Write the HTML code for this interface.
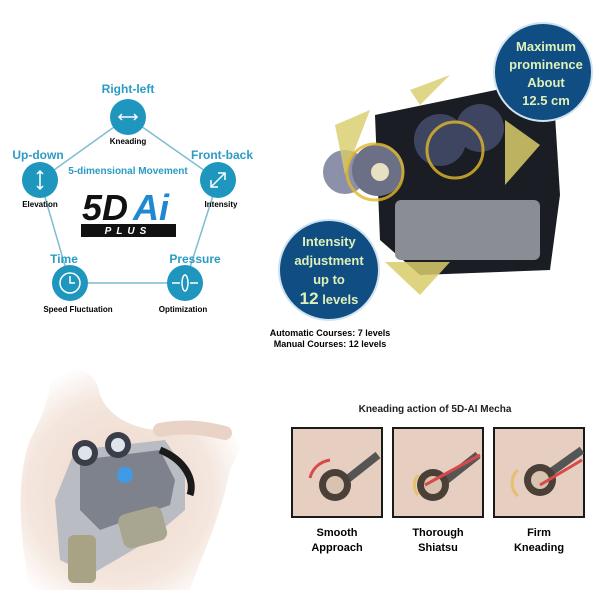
<!DOCTYPE html>
<html><head><style>
body{margin:0;width:600px;height:600px;background:#fff;overflow:hidden;font-family:"Liberation Sans",sans-serif;position:relative}
.t{position:absolute;white-space:nowrap;transform:translateX(-50%);font-weight:bold}
</style></head><body>
<svg width="600" height="600" style="position:absolute;left:0;top:0">
<defs>
<radialGradient id="body" cx="0.45" cy="0.55" r="0.6"><stop offset="0" stop-color="#ecd6c8"/><stop offset="0.7" stop-color="#f4e6de"/><stop offset="1" stop-color="#fff"/></radialGradient>
</defs>
<!-- pentagon -->
<polygon points="128,117 218,180 185,283 70,283 40,180" fill="none" stroke="#7dbcd2" stroke-width="1.5"/>
<g fill="#1e96bd">
<circle cx="128" cy="117" r="18"/><circle cx="40" cy="180" r="18"/><circle cx="218" cy="180" r="18"/><circle cx="70" cy="283" r="18"/><circle cx="185" cy="283" r="18"/>
</g>
<g stroke="#fff" stroke-width="1.5" fill="none">
<path d="M119,117h18M122,114l-3,3 3,3M134,114l3,3-3,3"/>
<path d="M40,171v18M37,174l3,-3 3,3M37,186l3,3 3,-3"/>
<path d="M211,187l14,-14M218,173h7v7M211,180v7h7"/>
<circle cx="70" cy="283" r="10"/><path d="M70,276v7h5"/>
<ellipse cx="185" cy="283" rx="3" ry="8"/><path d="M172,283h8M198,283h-8"/>
</g>
<text x="82" y="220" font-family="Liberation Sans" font-weight="bold" font-style="italic" font-size="36" fill="#111">5D</text>
<text x="133" y="220" font-family="Liberation Sans" font-weight="bold" font-style="italic" font-size="36" fill="#1e88d0">Ai</text>
<rect x="81" y="224" width="95" height="13" fill="#111"/>
<text x="128" y="234" text-anchor="middle" font-family="Liberation Sans" font-weight="bold" font-style="italic" font-size="10" letter-spacing="5" fill="#fff">PLUS</text>
<!-- machine -->
<g>
<polygon points="375,115 520,85 555,115 560,195 550,270 420,275 380,240" fill="#1b1d24"/>
<rect x="395" y="200" width="145" height="60" rx="6" fill="#8a8d94"/>
<circle cx="345" cy="172" r="22" fill="#8c90a8"/>
<circle cx="378" cy="170" r="26" fill="#6c7086"/>
<circle cx="440" cy="140" r="26" fill="#3e4560"/>
<circle cx="480" cy="128" r="24" fill="#3e4560"/>
<circle cx="380" cy="172" r="9" fill="#e8e0c0"/>
<polygon points="335,125 370,110 345,175" fill="#d8cc6a" opacity=".8"/>
<polygon points="410,90 450,75 420,105" fill="#d8cc6a" opacity=".8"/>
<polygon points="505,120 540,145 505,185" fill="#d8cc6a" opacity=".85"/>
<polygon points="385,262 450,262 420,295" fill="#d8cc6a" opacity=".85"/>
<circle cx="455" cy="150" r="28" fill="none" stroke="#e2b82a" stroke-width="3" opacity=".8"/>
<circle cx="375" cy="172" r="28" fill="none" stroke="#e2b82a" stroke-width="3" opacity=".8"/>
</g>
<circle cx="543" cy="72" r="49" fill="#0f4d82" stroke="#cfe3ef" stroke-width="2"/>
<circle cx="329" cy="270" r="50" fill="#0f4d82" stroke="#cfe3ef" stroke-width="2"/>
<!-- bottom-left photo -->
<path d="M50,380 C70,365 95,365 100,395 C110,420 140,430 160,430 C190,425 210,420 230,430 L240,450 L230,470 C220,520 200,560 190,590 L30,590 C20,540 15,480 30,440 C40,420 50,400 50,380Z" fill="url(#body)"/>
<path d="M160,430 C185,425 205,428 225,433" stroke="#e9d3c6" stroke-width="14" fill="none" stroke-linecap="round"/>
<polygon points="75,450 165,440 185,470 185,510 150,540 90,575 60,560 55,500" fill="#b9bcc3"/>
<polygon points="80,460 160,450 175,480 170,505 100,530 80,510" fill="#7e828c"/>
<circle cx="85" cy="453" r="13" fill="#3a3e48"/><circle cx="85" cy="453" r="7" fill="#dfe3ea"/>
<circle cx="118" cy="445" r="13" fill="#3a3e48"/><circle cx="118" cy="445" r="7" fill="#dfe3ea"/>
<rect x="68" y="535" width="28" height="48" rx="6" fill="#a9a385"/>
<rect x="120" y="510" width="45" height="35" rx="8" fill="#a8a690" transform="rotate(-15 142 527)"/>
<circle cx="125" cy="475" r="8" fill="#3a9cf0" opacity=".9"/>
<path d="M160,450 C185,460 195,480 190,495" stroke="#1a1a1a" stroke-width="7" fill="none"/>
<!-- kneading boxes -->
<g stroke="#1a1a1a" stroke-width="2">
<rect x="292" y="428" width="90" height="89" fill="#e6cfc0"/>
<rect x="393" y="428" width="90" height="89" fill="#e6cfc0"/>
<rect x="494" y="428" width="90" height="89" fill="#e6cfc0"/>
</g>
<g stroke="#555" stroke-width="8"><path d="M340,485 L378,455"/><path d="M440,485 L478,455"/><path d="M540,480 L582,450"/></g>
<g fill="#4a4038"><circle cx="335" cy="485" r="16"/><circle cx="433" cy="485" r="16"/><circle cx="540" cy="480" r="16"/></g>
<g fill="#d8c2b0"><circle cx="335" cy="485" r="9"/><circle cx="433" cy="485" r="9"/><circle cx="540" cy="480" r="9"/></g>
<path d="M330,460 C318,462 312,470 310,478" stroke="#d84a4a" stroke-width="3" fill="none"/>
<path d="M480,455 L425,485" stroke="#d84a4a" stroke-width="3"/>
<path d="M582,460 L540,485" stroke="#d84a4a" stroke-width="3"/>
<path d="M418,475 a12,14 0 0 0 0,20" stroke="#e6c070" stroke-width="3" fill="none"/>
<path d="M518,470 a14,16 0 0 0 0,26" stroke="#e6c070" stroke-width="3" fill="none"/>
</svg>
<div class="t" style="left:128px;top:82px;color:#2a9cc4;font-size:12px">Right-left</div>
<div class="t" style="left:128px;top:137px;font-size:8px">Kneading</div>
<div class="t" style="left:38px;top:148px;color:#2a9cc4;font-size:12px">Up-down</div>
<div class="t" style="left:40px;top:200px;font-size:8px">Elevation</div>
<div class="t" style="left:222px;top:148px;color:#2a9cc4;font-size:12px">Front-back</div>
<div class="t" style="left:221px;top:200px;font-size:8px">Intensity</div>
<div class="t" style="left:128px;top:166px;color:#2a9cc4;font-size:10px">5-dimensional Movement</div>
<div class="t" style="left:64px;top:252px;color:#2a9cc4;font-size:12px">Time</div>
<div class="t" style="left:78px;top:305px;font-size:8px">Speed Fluctuation</div>
<div class="t" style="left:195px;top:252px;color:#2a9cc4;font-size:12px">Pressure</div>
<div class="t" style="left:183px;top:305px;font-size:8px">Optimization</div>
<div class="t" style="left:546px;top:38px;color:#dff0b8;font-size:13px;line-height:18px;text-align:center">Maximum<br>prominence<br>About<br>12.5 cm</div>
<div class="t" style="left:329px;top:232px;color:#dff0b8;font-size:13px;line-height:19px;text-align:center">Intensity<br>adjustment<br>up to<br><span style="font-size:17px">12</span> levels</div>
<div class="t" style="left:330px;top:328px;font-size:9px;line-height:11px;text-align:center">Automatic Courses: 7 levels<br>Manual Courses: 12 levels</div>
<div class="t" style="left:435px;top:404px;font-size:10px;color:#222">Kneading action of 5D-AI Mecha</div>
<div class="t" style="left:337px;top:526px;font-size:11px;line-height:15px;text-align:center">Smooth<br>Approach</div>
<div class="t" style="left:438px;top:526px;font-size:11px;line-height:15px;text-align:center">Thorough<br>Shiatsu</div>
<div class="t" style="left:539px;top:526px;font-size:11px;line-height:15px;text-align:center">Firm<br>Kneading</div>
</body></html>
